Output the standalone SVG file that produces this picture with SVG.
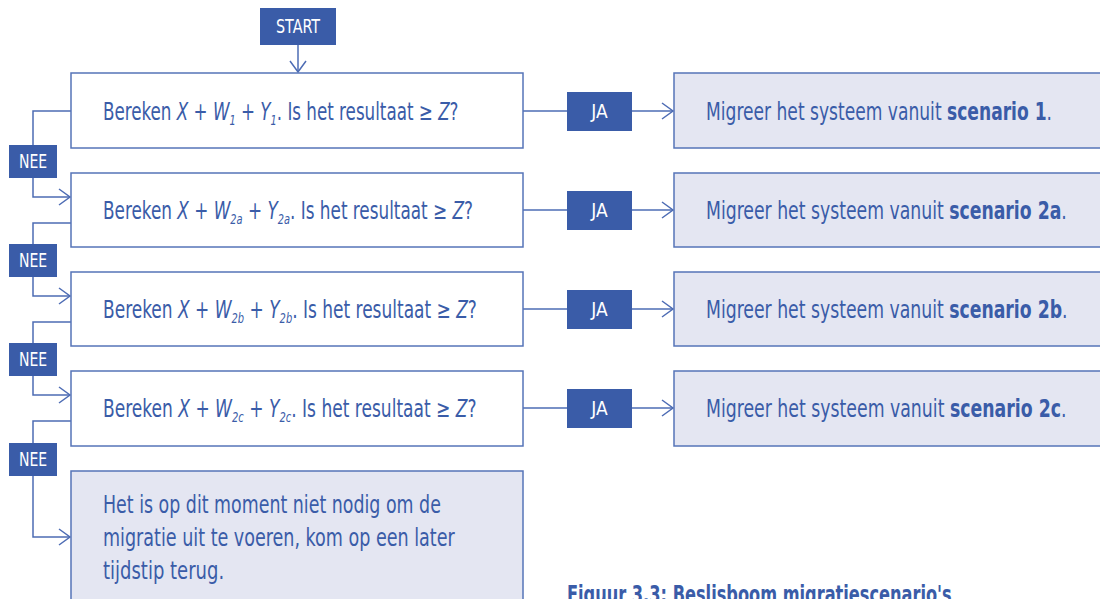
<svg xmlns="http://www.w3.org/2000/svg" width="1100" height="599" viewBox="0 0 1100 599">
<style>
text{font-family:"DejaVu Sans Condensed","Liberation Sans Narrow","Liberation Sans",Arial,sans-serif;}
.box{fill:#ffffff;stroke:#5674b8;stroke-width:1.5;}
.res{fill:#e4e6f2;stroke:#5674b8;stroke-width:1.5;}
.lab{fill:#3a5ca8;}
.labt{fill:#ffffff;font-size:19px;text-anchor:middle;}
.t{fill:#3a5ca8;font-size:24px;}
.i{font-style:italic;}
.b{font-weight:bold;}
.s{font-size:14px;font-style:italic;}
.c{fill:none;stroke:#4d6cb4;stroke-width:1.5;}
</style>
<defs>
<marker id="ah" markerUnits="userSpaceOnUse" markerWidth="14" markerHeight="20" refX="12" refY="10" orient="auto" viewBox="0 0 14 20">
<path d="M1,2 L12,10 L1,18" fill="none" stroke="#4d6cb4" stroke-width="1.5"/>
</marker>
</defs>

<g id="connectors">
<path class="c" d="M298,45 V72" marker-end="url(#ah)"/>
<path class="c" d="M523,111 H673" marker-end="url(#ah)"/>
<path class="c" d="M523,210 H673" marker-end="url(#ah)"/>
<path class="c" d="M523,309 H673" marker-end="url(#ah)"/>
<path class="c" d="M523,408 H673" marker-end="url(#ah)"/>
<path class="c" d="M71,111 H33 V146"/>
<path class="c" d="M33,178 V197 H70" marker-end="url(#ah)"/>
<path class="c" d="M71,223 H33 V245"/>
<path class="c" d="M33,277 V296 H70" marker-end="url(#ah)"/>
<path class="c" d="M71,322 H33 V344"/>
<path class="c" d="M33,376 V395 H70" marker-end="url(#ah)"/>
<path class="c" d="M71,421 H33 V444"/>
<path class="c" d="M33,476 V537 H70" marker-end="url(#ah)"/>
</g>

<g id="start">
<rect class="lab" x="260" y="8" width="76" height="37"/>
<text class="labt" transform="translate(298 33) scale(0.84 1)">START</text>
</g>

<g id="q1">
<rect class="box" x="71" y="73" width="452" height="75"/>
<text class="t" transform="translate(103 120) scale(0.775 1)">Bereken <tspan class="i">X</tspan> + <tspan class="i">W</tspan><tspan class="s" dy="5">1</tspan><tspan dy="-5"> + </tspan><tspan class="i">Y</tspan><tspan class="s" dy="5">1</tspan><tspan dy="-5">. Is het resultaat ≥ </tspan><tspan class="i">Z</tspan>?</text>
</g>
<g id="q2">
<rect class="box" x="71" y="173" width="452" height="74"/>
<text class="t" transform="translate(103 219) scale(0.781 1)">Bereken <tspan class="i">X</tspan> + <tspan class="i">W</tspan><tspan class="s" dy="5">2a</tspan><tspan dy="-5"> + </tspan><tspan class="i">Y</tspan><tspan class="s" dy="5">2a</tspan><tspan dy="-5">. Is het resultaat ≥ </tspan><tspan class="i">Z</tspan>?</text>
</g>
<g id="q3">
<rect class="box" x="71" y="272" width="452" height="74"/>
<text class="t" transform="translate(103 318) scale(0.788 1)">Bereken <tspan class="i">X</tspan> + <tspan class="i">W</tspan><tspan class="s" dy="5">2b</tspan><tspan dy="-5"> + </tspan><tspan class="i">Y</tspan><tspan class="s" dy="5">2b</tspan><tspan dy="-5">. Is het resultaat ≥ </tspan><tspan class="i">Z</tspan>?</text>
</g>
<g id="q4">
<rect class="box" x="71" y="371" width="452" height="75"/>
<text class="t" transform="translate(103 417) scale(0.791 1)">Bereken <tspan class="i">X</tspan> + <tspan class="i">W</tspan><tspan class="s" dy="5">2c</tspan><tspan dy="-5"> + </tspan><tspan class="i">Y</tspan><tspan class="s" dy="5">2c</tspan><tspan dy="-5">. Is het resultaat ≥ </tspan><tspan class="i">Z</tspan>?</text>
</g>
<g id="end">
<rect class="res" x="71" y="471" width="452" height="140"/>
<text class="t" transform="translate(103 513) scale(0.807 1)">Het is op dit moment niet nodig om de</text>
<text class="t" transform="translate(103 546) scale(0.813 1)">migratie uit te voeren, kom op een later</text>
<text class="t" transform="translate(103 579) scale(0.834 1)">tijdstip terug.</text>
</g>

<g id="r1">
<rect class="res" x="674" y="73" width="440" height="75"/>
<text class="t" transform="translate(706 120) scale(0.793 1)">Migreer het systeem vanuit <tspan class="b">scenario 1</tspan>.</text>
</g>
<g id="r2">
<rect class="res" x="674" y="173" width="440" height="74"/>
<text class="t" transform="translate(706 219) scale(0.8 1)">Migreer het systeem vanuit <tspan class="b">scenario 2a</tspan>.</text>
</g>
<g id="r3">
<rect class="res" x="674" y="272" width="440" height="74"/>
<text class="t" transform="translate(706 318) scale(0.8 1)">Migreer het systeem vanuit <tspan class="b">scenario 2b</tspan>.</text>
</g>
<g id="r4">
<rect class="res" x="674" y="371" width="440" height="75"/>
<text class="t" transform="translate(706 417) scale(0.802 1)">Migreer het systeem vanuit <tspan class="b">scenario 2c</tspan>.</text>
</g>

<g id="ja1"><rect class="lab" x="567" y="92" width="65" height="39"/><text class="labt" x="599.5" y="118">JA</text></g>
<g id="ja2"><rect class="lab" x="567" y="191" width="65" height="39"/><text class="labt" x="599.5" y="217">JA</text></g>
<g id="ja3"><rect class="lab" x="567" y="290" width="65" height="39"/><text class="labt" x="599.5" y="316">JA</text></g>
<g id="ja4"><rect class="lab" x="567" y="389" width="65" height="39"/><text class="labt" x="599.5" y="415">JA</text></g>

<g id="nee1"><rect class="lab" x="9" y="145" width="48" height="33"/><text class="labt" transform="translate(33 168) scale(0.82 1)">NEE</text></g>
<g id="nee2"><rect class="lab" x="9" y="244" width="48" height="33"/><text class="labt" transform="translate(33 267) scale(0.82 1)">NEE</text></g>
<g id="nee3"><rect class="lab" x="9" y="343" width="48" height="33"/><text class="labt" transform="translate(33 366) scale(0.82 1)">NEE</text></g>
<g id="nee4"><rect class="lab" x="9" y="443" width="48" height="33"/><text class="labt" transform="translate(33 466) scale(0.82 1)">NEE</text></g>

<text class="t b" transform="translate(567 603) scale(0.75 1)">Figuur 3.3: Beslisboom migratiescenario's</text>
</svg>
